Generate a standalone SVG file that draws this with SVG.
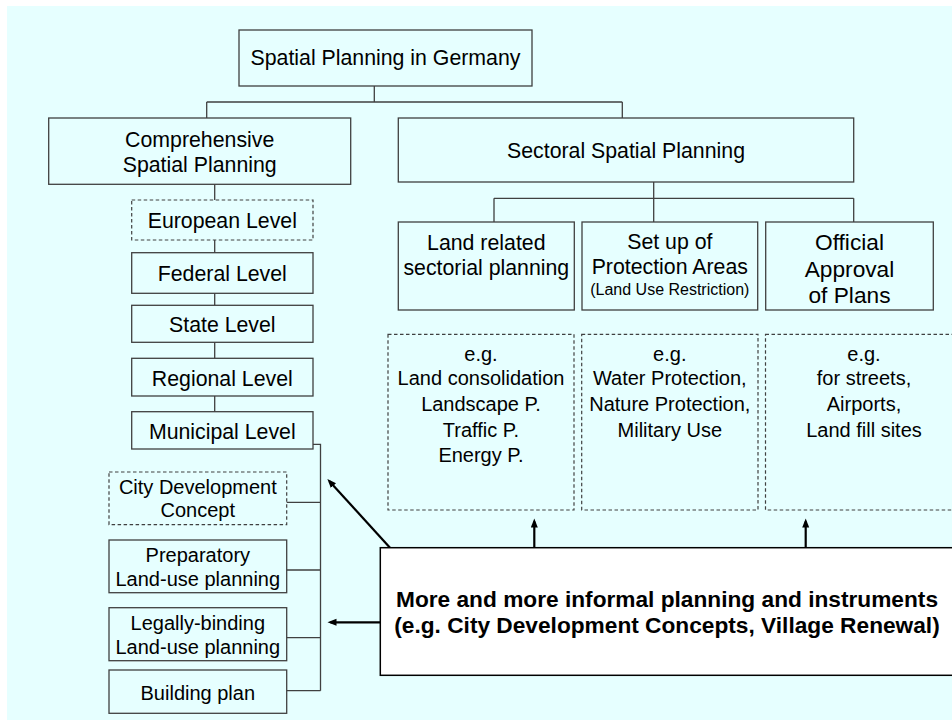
<svg xmlns="http://www.w3.org/2000/svg" width="952" height="720" viewBox="0 0 952 720">
<style>
.bx{fill:none;stroke:#404040;stroke-width:1.3}
.ds{fill:none;stroke:#404040;stroke-width:1.2;stroke-dasharray:3.5,2.5}
.t{font-family:"Liberation Sans",Arial,sans-serif;fill:#000;text-anchor:middle}
.f21{font-size:21.3px}
.f20{font-size:20px}
.f23{font-size:22.7px}
.f16{font-size:16px}
.b{font-weight:bold;font-size:22.7px}
.cn{fill:none;stroke:#404040;stroke-width:1.3}
.ar{fill:none;stroke:#000;stroke-width:2.2}
</style>
<defs>
<marker id="ah" markerUnits="userSpaceOnUse" markerWidth="10" markerHeight="8" refX="6" refY="3.5" orient="auto">
<path d="M0,0 L9,3.5 L0,7 z" fill="#000"/>
</marker>
</defs>
<rect x="0" y="0" width="952" height="720" fill="#fff"/>
<rect x="7" y="6" width="945" height="714" fill="#E6FFFF"/>

<g id="connectors">
<path class="cn" d="M374.3,86 V102 M206.7,102 H622.3 M206.7,102 V118 M622.3,102 V118"/>
<path class="cn" d="M214.7,184.3 V200 M214.7,240 V252.7 M214.7,293.3 V305.3 M214.7,342.3 V358.3 M214.7,396 V411.7"/>
<path class="cn" d="M313,444.3 H320.5 V690.7 M286.7,502.3 H320.5 M286.7,570 H320.5 M286.7,637.7 H320.5 M286.7,690.7 H320.5"/>
<path class="cn" d="M653.7,182 V222 M494,198.3 H853.7 M494,198.3 V222 M853.7,198.3 V222"/>
<path class="ar" marker-end="url(#ah)" d="M390,547.7 L329.4,481.2"/>
<path class="ar" marker-end="url(#ah)" d="M380.3,622.3 H330.5"/>
<path class="ar" marker-end="url(#ah)" d="M534.3,547.7 V521.5"/>
<path class="ar" marker-end="url(#ah)" d="M805.7,547.7 V521.5"/>
</g>

<g id="root">
<rect class="bx" x="239" y="30" width="293" height="56"/>
<text class="t f21" x="385.5" y="65">Spatial Planning in Germany</text>
</g>
<g id="comprehensive">
<rect class="bx" x="48.7" y="118" width="302" height="66.3"/>
<text class="t f21" x="199.7" y="146.7">Comprehensive</text>
<text class="t f21" x="199.7" y="171.7">Spatial Planning</text>
</g>
<g id="sectoral">
<rect class="bx" x="398.3" y="118" width="455.4" height="64"/>
<text class="t f21" x="626" y="158">Sectoral Spatial Planning</text>
</g>
<g id="european">
<rect class="ds" x="131.7" y="200" width="181.3" height="40"/>
<text class="t f21" x="222.3" y="228">European Level</text>
</g>
<g id="federal">
<rect class="bx" x="131.7" y="252.7" width="181.3" height="40.6"/>
<text class="t f21" x="222.3" y="281">Federal Level</text>
</g>
<g id="state">
<rect class="bx" x="131.7" y="305.3" width="181.3" height="37"/>
<text class="t f21" x="222.3" y="331.7">State Level</text>
</g>
<g id="regional">
<rect class="bx" x="131.7" y="358.3" width="181.3" height="37.7"/>
<text class="t f21" x="222.3" y="386">Regional Level</text>
</g>
<g id="municipal">
<rect class="bx" x="131.7" y="411.7" width="181.3" height="37.3"/>
<text class="t f21" x="222.3" y="439">Municipal Level</text>
</g>
<g id="citydev">
<rect class="ds" x="109" y="472" width="177.7" height="52.7"/>
<text class="t f20" x="197.8" y="494">City Development</text>
<text class="t f20" x="197.8" y="517.3">Concept</text>
</g>
<g id="preparatory">
<rect class="bx" x="109" y="540" width="177.7" height="52.7"/>
<text class="t f20" x="197.8" y="561.7">Preparatory</text>
<text class="t f20" x="197.8" y="586">Land-use planning</text>
</g>
<g id="legally">
<rect class="bx" x="109" y="607.7" width="177.7" height="53"/>
<text class="t f20" x="197.8" y="630">Legally-binding</text>
<text class="t f20" x="197.8" y="654">Land-use planning</text>
</g>
<g id="building">
<rect class="bx" x="109" y="670" width="177.7" height="43.3"/>
<text class="t f20" x="197.8" y="700">Building plan</text>
</g>
<g id="landrelated">
<rect class="bx" x="398.3" y="222" width="176" height="88"/>
<text class="t f21" x="486.3" y="250">Land related</text>
<text class="t f21" x="486.3" y="275">sectorial planning</text>
</g>
<g id="protection">
<rect class="bx" x="582" y="222" width="175.7" height="88"/>
<text class="t f21" x="669.8" y="249">Set up of</text>
<text class="t f21" x="669.8" y="274">Protection Areas</text>
<text class="t f16" x="669.8" y="295">(Land Use Restriction)</text>
</g>
<g id="approval">
<rect class="bx" x="765.7" y="222" width="167.6" height="88"/>
<text class="t f23" x="849.5" y="250">Official</text>
<text class="t f23" x="849.5" y="276.7">Approval</text>
<text class="t f23" x="849.5" y="303.3">of Plans</text>
</g>
<g id="eg-land">
<rect class="ds" x="388" y="334.3" width="186" height="175.7"/>
<text class="t f20" x="481" y="360.7">e.g.</text>
<text class="t f20" x="481" y="385">Land consolidation</text>
<text class="t f20" x="481" y="410.7">Landscape P.</text>
<text class="t f20" x="481" y="436.7">Traffic P.</text>
<text class="t f20" x="481" y="461.7">Energy P.</text>
</g>
<g id="eg-protection">
<rect class="ds" x="581.7" y="334.3" width="176.3" height="175.7"/>
<text class="t f20" x="669.8" y="360.7">e.g.</text>
<text class="t f20" x="669.8" y="385">Water Protection,</text>
<text class="t f20" x="669.8" y="410.7">Nature Protection,</text>
<text class="t f20" x="669.8" y="436.7">Military Use</text>
</g>
<g id="eg-approval">
<rect class="ds" x="765.5" y="334.3" width="200" height="175.7"/>
<text class="t f20" x="864" y="360.7">e.g.</text>
<text class="t f20" x="864" y="385">for streets,</text>
<text class="t f20" x="864" y="410.7">Airports,</text>
<text class="t f20" x="864" y="436.7">Land fill sites</text>
</g>
<g id="informal">
<rect x="380.3" y="547.7" width="580" height="127.6" fill="#fff" stroke="#000" stroke-width="1.5"/>
<text class="t b" x="667" y="606.7">More and more informal planning and instruments</text>
<text class="t b" x="667" y="633.3">(e.g. City Development Concepts, Village Renewal)</text>
</g>
</svg>
